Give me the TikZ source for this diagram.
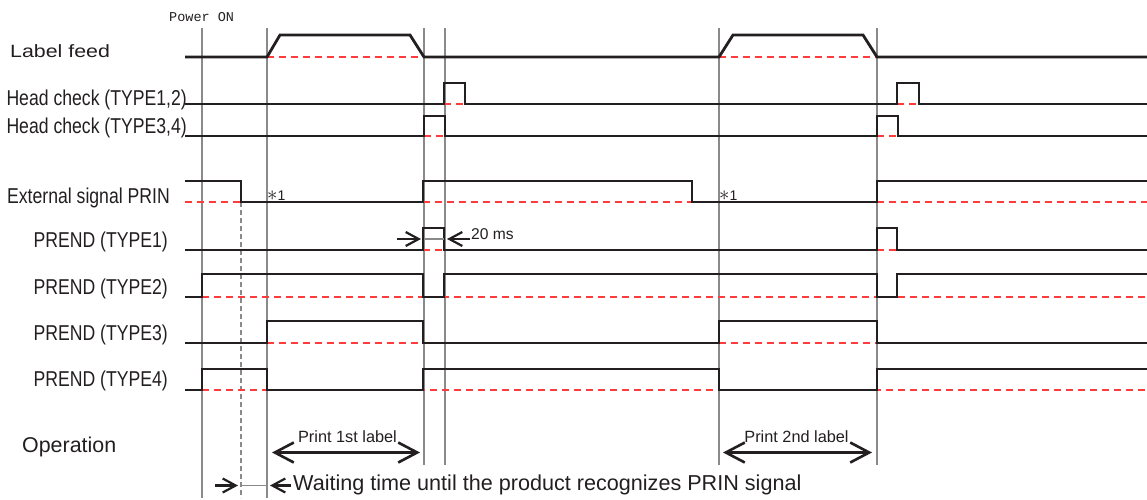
\documentclass[tikz,border=0pt]{standalone}
\usepackage{fontspec}
\setmainfont{Liberation Sans}
\setmonofont{Liberation Mono}
\newfontfamily\narrowsf[FakeStretch=0.82]{Liberation Sans}
\newfontfamily\widesf[FakeStretch=1.2]{Liberation Sans}
\usepackage{tikz}
\usetikzlibrary{arrows.meta}
\definecolor{sigblk}{HTML}{231F20}
\definecolor{refred}{HTML}{FF3B3B}
\definecolor{tgray}{HTML}{8A8A8A}

\begin{document}
\begin{tikzpicture}[
  x=1pt, y=-1pt,
  sig/.style={line width=2.8pt, color=sigblk},
  lowref/.style={line width=1.2pt, color=refred, dash pattern=on 7pt off 5pt},
  tline/.style={line width=1.3pt, color=tgray},
  tdash/.style={line width=1.1pt, color=tgray, dash pattern=on 5pt off 3pt},
  sigName/.style={font=\narrowsf\fontsize{21.5}{24}\selectfont, text=sigblk, inner sep=0pt, anchor=base east},
  bigName/.style={font=\fontsize{21.4}{24}\selectfont, text=sigblk, inner sep=0pt, anchor=base west},
  noteTxt/.style={font=\fontsize{16.3}{18}\selectfont, text=sigblk, inner sep=0pt, anchor=base},
  starTxt/.style={font=\fontsize{14}{14}\selectfont, text=sigblk, inner sep=0pt, anchor=base west},
  arr/.style={-{Straight Barb[length=13pt,width=14pt]}, line width=2.2pt, color=sigblk},
  spanArr/.style={{Straight Barb[length=19pt,width=20pt]}-{Straight Barb[length=19pt,width=20pt]}, line width=2.6pt, color=sigblk},
]
\useasboundingbox (0,0) rectangle (1147,499);

\draw[tline] (202,28) -- (202,498);
\draw[tline] (267,28) -- (267,498);
\draw[tline] (424,28) -- (424,465);
\draw[tline] (445,28) -- (445,465);
\draw[tline] (719,28) -- (719,465);
\draw[tline] (877,28) -- (877,465);
\draw[tdash] (241,202) -- (241,498);

\draw[lowref] (267,57) -- (424,57);
\draw[lowref] (719,57) -- (877,57);
\draw[lowref] (444,104) -- (465,104);
\draw[lowref] (897,104) -- (919,104);
\draw[lowref] (424,136) -- (445,136);
\draw[lowref] (877,136) -- (898,136);
\draw[lowref] (185,202) -- (241,202);
\draw[lowref] (423,202) -- (692,202);
\draw[lowref] (877,202) -- (1147,202);
\draw[lowref] (423,250) -- (444,250);
\draw[lowref] (877,250) -- (897,250);
\draw[lowref] (202,297) -- (1147,297);
\draw[lowref] (267,343) -- (423,343);
\draw[lowref] (719,343) -- (877,343);
\draw[lowref] (202,390) -- (1147,390);

\draw[sig] (185,57) -- (267,57) -- (280,35) -- (410,35) -- (424,57) -- (719,57) -- (733,35) -- (863,35) -- (877,57) -- (1147,57);
\draw[sig] (185,104) -- (444,104) |- (465,83) |- (897,104) |- (919,83) |- (1147,104);
\draw[sig] (185,136) -- (424,136) |- (445,116) |- (877,136) |- (898,116) |- (1147,136);
\draw[sig] (185,181) -- (241,181) |- (423,202) |- (692,181) |- (877,202) |- (1147,181);
\draw[sig] (185,250) -- (423,250) |- (444,228) |- (877,250) |- (897,228) |- (1147,250);
\draw[sig] (185,297) -- (202,297) |- (423,274) |- (444,297) |- (877,274) |- (897,297) |- (1147,274);
\draw[sig] (185,343) -- (267,343) |- (423,321) |- (719,343) |- (877,321) |- (1147,343);
\draw[sig] (185,390) -- (202,390) |- (267,369) |- (423,390) |- (719,369) |- (877,390) |- (1147,369);

\node[inner sep=0pt, anchor=base west, font=\ttfamily\fontsize{13.5}{15}\selectfont, text=sigblk] (pwrOn) at (169,21) {Power ON};
\node[bigName, font=\widesf\fontsize{17.8}{20}\selectfont] (feedName) at (10,57.7) {Label feed};
\node[sigName] (hc12Name) at (187,105) {Head check (TYPE1,2)};
\node[sigName] (hc34Name) at (187,133.3) {Head check (TYPE3,4)};
\node[sigName] (prinName) at (170,203) {External signal PRIN};
\node[sigName] (p1Name) at (168,247.7) {PREND (TYPE1)};
\node[sigName] (p2Name) at (168,294) {PREND (TYPE2)};
\node[sigName] (p3Name) at (168,340.3) {PREND (TYPE3)};
\node[sigName] (p4Name) at (168,386.8) {PREND (TYPE4)};
\node[bigName] (opName) at (22,452) {Operation};

\node[starTxt] (star1) at (267,200) {{\fontsize{20}{20}\selectfont$\ast$}1};
\node[starTxt] (star2) at (719,200) {{\fontsize{20}{20}\selectfont$\ast$}1};

\coordinate (t1a) at (397,239);
\coordinate (t1b) at (421,239);
\coordinate (t1c) at (447,239);
\coordinate (t1d) at (470,239);
\draw[tline] (424,239) -- (444,239);
\draw[arr] (t1a) -- (t1b);
\draw[arr] (t1d) -- (t1c);
\node[noteTxt, anchor=base west, font=\fontsize{15.6}{18}\selectfont] (msTxt) at (471,239.5) {20 ms};

\coordinate (pr1a) at (272,452.5);
\coordinate (pr1b) at (420,452.5);
\coordinate (pr2a) at (723,452.5);
\coordinate (pr2b) at (872,452.5);
\draw[spanArr] (pr1a) -- (pr1b);
\draw[spanArr] (pr2a) -- (pr2b);
\node[noteTxt] (pr1Txt) at (347.5,442.7) {Print 1st label};
\node[noteTxt] (pr2Txt) at (796.5,442.7) {Print 2nd label};

\coordinate (wt1) at (215,485.5);
\coordinate (wt2) at (238,485.5);
\coordinate (wt3) at (270,485.5);
\coordinate (wt4) at (291,485.5);
\draw[tline] (241,485.5) -- (267,485.5);
\draw[arr] (wt1) -- (wt2);
\draw[arr] (wt4) -- (wt3);
\node[bigName, font=\fontsize{21.6}{24}\selectfont] (waitTxt) at (293,490.7) {Waiting time until the product recognizes PRIN signal};

\end{tikzpicture}
\end{document}
